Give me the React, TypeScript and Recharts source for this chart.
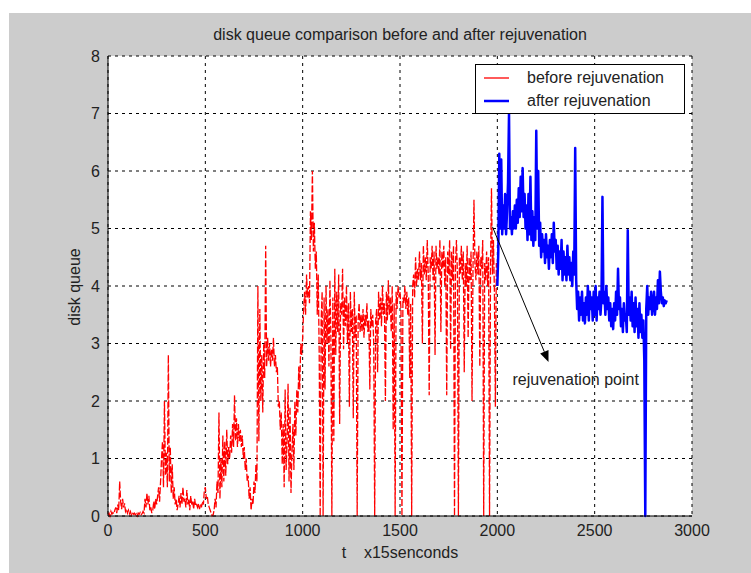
import React from 'react'
import { LineChart, Line, XAxis, YAxis, CartesianGrid, Legend, ReferenceLine, ReferenceDot } from 'recharts'

const FONT = '"Liberation Sans", Arial, sans-serif'

const xTicks = [0, 500, 1000, 1500, 2000, 2500, 3000]
const yTicks = [0, 1, 2, 3, 4, 5, 6, 7, 8]
const sampleStep = 5
const afterStart = 2000

// disk queue before rejuvenation, one value every 5 samples, t = 0 .. 1995
const beforeQueue = [
  0.02, 0.05, 0.0, 0.08, 0.03, 0.06, 0.04, 0.1, 0.15, 0.05, 0.2, 0.1, 0.6, 0.25, 0.12, 0.3, 0.15, 0.22, 0.08, 0.12,
  0.05, 0.1, 0.04, 0.08, 0.02, 0.06, 0.03, 0.05, 0.02, 0.04, 0.0, 0.05, 0.03, 0.06, 0.02, 0.04, 0.08, 0.05, 0.3, 0.15,
  0.4, 0.2, 0.35, 0.1, 0.15, 0.05, 0.1, 0.25, 0.12, 0.3, 0.2, 0.35, 0.5, 0.25, 0.6, 1.0, 1.3, 0.5, 2.0, 0.7,
  1.1, 0.5, 2.8, 0.6, 1.2, 0.4, 0.9, 0.3, 0.5, 0.2, 0.3, 0.1, 0.2, 0.35, 0.15, 0.4, 0.2, 0.5, 0.25, 0.3,
  0.15, 0.45, 0.2, 0.3, 0.1, 0.35, 0.2, 0.25, 0.12, 0.3, 0.18, 0.2, 0.15, 0.22, 0.12, 0.2, 0.15, 0.25, 0.2, 0.45,
  0.5, 0.3, 0.35, 0.2, 0.15, 0.1, 0.05, 0.0, 0.02, 0.1, 0.3, 0.15, 0.6, 0.4, 1.8, 0.3, 1.0, 0.5, 1.4, 0.6,
  1.3, 0.7, 1.5, 0.9, 1.2, 1.0, 1.4, 1.1, 1.6, 1.2, 2.1, 1.3, 1.7, 1.2, 1.6, 1.3, 1.5, 1.2, 1.4, 1.0,
  1.2, 0.8, 1.0, 0.6, 0.7, 0.3, 0.5, 0.1, 0.3, 0.2, 0.6, 0.4, 0.9, 0.6, 4.0, 1.3, 3.6, 2.0, 2.8, 1.8,
  3.0, 2.4, 4.7, 2.6, 3.1, 2.7, 3.0, 2.6, 2.9, 2.7, 3.1, 2.6, 2.8, 2.5, 2.6, 1.9, 2.0, 1.5, 1.8, 0.9,
  1.6, 0.5, 2.2, 0.8, 1.3, 2.3, 0.6, 1.9, 0.4, 1.1, 1.6, 0.8, 2.0, 1.4, 2.2, 1.8, 2.6, 2.2, 3.0, 2.8,
  3.1, 3.6, 3.9, 3.5, 4.2, 3.8, 4.0, 3.7, 5.3, 4.8, 6.0, 4.6, 5.1, 4.3, 4.6, 3.5, 4.2, 2.8, 0.0, 3.4,
  3.9, 0.0, 3.8, 2.2, 4.0, 3.0, 3.6, 2.6, 4.1, 3.1, 0.0, 3.8, 1.3, 4.3, 2.8, 3.9, 3.2, 4.2, 1.6, 3.7,
  3.5, 4.3, 2.9, 3.8, 3.3, 4.0, 3.0, 3.7, 1.9, 3.9, 3.2, 3.6, 1.7, 3.9, 3.1, 3.5, 0.0, 3.4, 3.7, 3.2,
  3.5, 3.2, 3.6, 3.1, 3.5, 3.3, 3.7, 3.2, 3.4, 2.2, 3.6, 3.3, 3.5, 3.0, 0.0, 3.4, 3.6, 2.5, 3.9, 3.4,
  3.8, 3.3, 4.0, 3.5, 3.7, 2.0, 3.9, 3.4, 4.1, 3.5, 3.8, 3.2, 4.0, 1.5, 3.7, 0.0, 3.9, 3.6, 4.0, 3.8,
  3.9, 3.6, 0.0, 3.8, 3.7, 4.0, 3.6, 3.9, 3.5, 3.8, 2.4, 3.7, 0.0, 4.0, 4.2, 3.8, 4.5, 4.0, 4.3, 4.1,
  4.6, 4.1, 4.4, 3.0, 4.7, 4.2, 4.5, 4.1, 4.8, 4.2, 2.1, 4.5, 4.3, 4.7, 4.1, 4.6, 2.8, 4.7, 4.3, 4.5,
  4.2, 4.8, 3.2, 4.6, 4.3, 4.7, 4.0, 4.5, 2.1, 4.6, 4.2, 4.8, 2.9, 4.6, 4.1, 4.7, 0.0, 4.4, 4.8, 4.2,
  0.0, 4.5, 4.2, 4.7, 4.1, 4.6, 2.5, 4.4, 4.0, 4.7, 3.1, 4.5, 4.1, 4.6, 2.0, 4.3, 5.5, 4.4, 4.1, 4.6,
  4.2, 4.7, 2.6, 4.5, 4.3, 4.8, 0.0, 4.4, 4.1, 4.6, 4.0, 4.5, 0.0, 4.3, 5.7, 4.2, 4.8, 3.9, 1.9, 4.4,
]

// disk queue after rejuvenation, t = 2000 .. 2870
const afterQueue = [
  4.0, 4.6, 6.3, 5.0, 6.2, 4.9, 5.4, 5.0, 5.6, 4.9, 5.3, 5.8, 7.0, 5.0, 5.2, 4.9, 5.3, 5.0, 5.4, 5.0,
  5.5, 5.1, 5.7, 5.2, 5.9, 5.3, 6.05, 5.2, 5.6, 5.0, 5.4, 4.8, 5.6, 4.9, 5.9, 4.8, 5.3, 4.7, 5.2, 4.8,
  6.7, 5.0, 6.0, 4.7, 5.1, 4.5, 4.9, 4.6, 4.8, 4.4, 4.9, 4.5, 4.7, 4.3, 4.8, 4.5, 4.9, 4.4, 5.1, 4.6,
  4.8, 4.3, 4.7, 4.2, 4.6, 4.3, 4.8, 4.1, 4.6, 4.2, 4.5, 4.1, 4.7, 4.2, 4.5, 4.1, 4.4, 4.0, 4.6, 4.2,
  6.4, 4.1, 3.6, 3.9, 3.4, 3.8, 3.5, 3.9, 3.4, 3.7, 3.35, 3.8, 3.5, 4.0, 3.4, 3.9, 3.6, 3.8, 3.4, 3.9,
  3.5, 4.0, 3.4, 3.8, 3.6, 3.9, 3.5, 3.8, 5.55, 3.7, 3.9, 3.5, 4.0, 3.6, 3.8, 3.4, 3.7, 3.3, 3.6, 3.25,
  3.7, 3.4, 3.9, 3.5, 4.3, 3.6, 3.8, 3.3, 3.6, 3.2, 3.7, 3.4, 3.5, 3.2, 4.97, 3.5, 3.8, 3.4, 3.9, 3.3,
  3.7, 3.2, 3.8, 3.3, 3.6, 3.1, 3.7, 3.2, 3.5, 3.1, 3.4, 2.7, 0.0, 3.6, 4.0, 3.5, 3.8, 3.6, 3.9, 3.5,
  3.7, 3.9, 3.5, 3.8, 3.6, 4.1, 3.7, 4.25, 3.9, 3.7, 3.8, 3.65, 3.75, 3.7, 3.75,
]

// arrow from the end of the red curve to the note
const arrowFrom = { x: 1975, y: 5.03 }
const arrowTo = { x: 2263, y: 2.68 }
const noteAt = { x: 2078, y: 2.37 }

const data: any[] = []
beforeQueue.forEach((v, i) => data.push({ t: i * sampleStep, before: v }))
afterQueue.forEach((v, i) => data.push({ t: afterStart + i * sampleStep, after: v }))

const Arrow = (p: any) => {
  const { x1, y1, x2, y2 } = p
  const a = Math.atan2(y2 - y1, x2 - x1)
  const len = 11
  const w = 4.5
  const bx = x2 - len * Math.cos(a)
  const by = y2 - len * Math.sin(a)
  const pts = [
    [x2, y2],
    [bx + w * Math.sin(a), by - w * Math.cos(a)],
    [bx - w * Math.sin(a), by + w * Math.cos(a)],
  ]
  return (
    <g>
      <line x1={x1} y1={y1} x2={bx} y2={by} stroke="#000" strokeWidth={1} />
      <polygon points={pts.map((q) => q.join(',')).join(' ')} fill="#000" />
    </g>
  )
}

const Note = (p: any) => (
  <text x={p.cx} y={p.cy} dy="0.35em" fontSize={16} fontFamily={FONT} fill="#222">
    rejuvenation point
  </text>
)

const LegendBox = () => (
  <div style={{ width: 208, height: 48, border: '1px solid #000', background: '#fff', fontFamily: FONT, fontSize: 16, color: '#222', position: 'relative' }}>
    <svg width={30} height={48} style={{ position: 'absolute', left: 6, top: 0 }}>
      <line x1={2} y1={13} x2={27} y2={13} stroke="#ff0000" strokeWidth={1.3} />
      <line x1={2} y1={36} x2={27} y2={36} stroke="#0000ff" strokeWidth={2.5} />
    </svg>
    <div style={{ position: 'absolute', left: 51, top: 3, lineHeight: '20px' }}>before rejuvenation</div>
    <div style={{ position: 'absolute', left: 51, top: 26, lineHeight: '20px' }}>after rejuvenation</div>
  </div>
)

const tickStyle = { fontSize: 16, fill: '#222', fontFamily: FONT }

export default function App() {
  return (
    <div style={{ position: 'absolute', left: 0, top: 0, width: 751, height: 573, background: '#fff' }}>
      <div style={{ position: 'absolute', left: 9, top: 13, width: 742, height: 560, background: '#cccccc' }} />
      <div style={{ position: 'absolute', left: 0, top: 0 }}>
        <LineChart width={751} height={573} data={data} margin={{ top: 56, right: 59, bottom: 27, left: 48 }}>
          <CartesianGrid fill="#ffffff" fillOpacity={1} stroke="#000" strokeDasharray="3 4" strokeWidth={1} />
          <XAxis dataKey="t" type="number" domain={[0, 3000]} ticks={xTicks} height={30}
            tickSize={0} tickMargin={9} tickLine={false} axisLine={{ stroke: '#000' }} tick={tickStyle} />
          <YAxis type="number" domain={[0, 8]} ticks={yTicks} width={60}
            tickSize={0} tickMargin={8} tickLine={false} axisLine={{ stroke: '#000' }} tick={tickStyle} />
          <Legend layout="horizontal" verticalAlign="middle" align="center" content={LegendBox}
            wrapperStyle={{ position: 'absolute', left: 475, top: 64, width: 210, height: 50 }} />
          <Line dataKey="before" name="before rejuvenation" stroke="#ff0000" strokeWidth={1.3}
            strokeDasharray="7 2" dot={false} activeDot={false} isAnimationActive={false} connectNulls={false} />
          <Line dataKey="after" name="after rejuvenation" stroke="#0000ff" strokeWidth={2.5}
            strokeLinejoin="round" dot={false} activeDot={false} isAnimationActive={false} connectNulls={false} />
          <ReferenceLine segment={[arrowFrom, arrowTo]} shape={Arrow} ifOverflow="visible" />
          <ReferenceDot x={noteAt.x} y={noteAt.y} r={0} shape={Note} ifOverflow="visible" />
        </LineChart>
      </div>
      <div style={{ position: 'absolute', left: 100, width: 600, top: 25, textAlign: 'center', fontFamily: FONT, fontSize: 16, color: '#222', lineHeight: '20px' }}>
        disk queue comparison before and after rejuvenation
      </div>
      <div style={{ position: 'absolute', left: 100, width: 600, top: 543, textAlign: 'center', fontFamily: FONT, fontSize: 16, color: '#222', lineHeight: '20px', whiteSpace: 'pre' }}>
        {'t    x15senconds'}
      </div>
      <div style={{ position: 'absolute', left: 75, top: 287, transform: 'translate(-50%, -50%) rotate(-90deg)', fontFamily: FONT, fontSize: 16, color: '#222', lineHeight: '20px', whiteSpace: 'nowrap' }}>
        disk queue
      </div>
    </div>
  )
}
